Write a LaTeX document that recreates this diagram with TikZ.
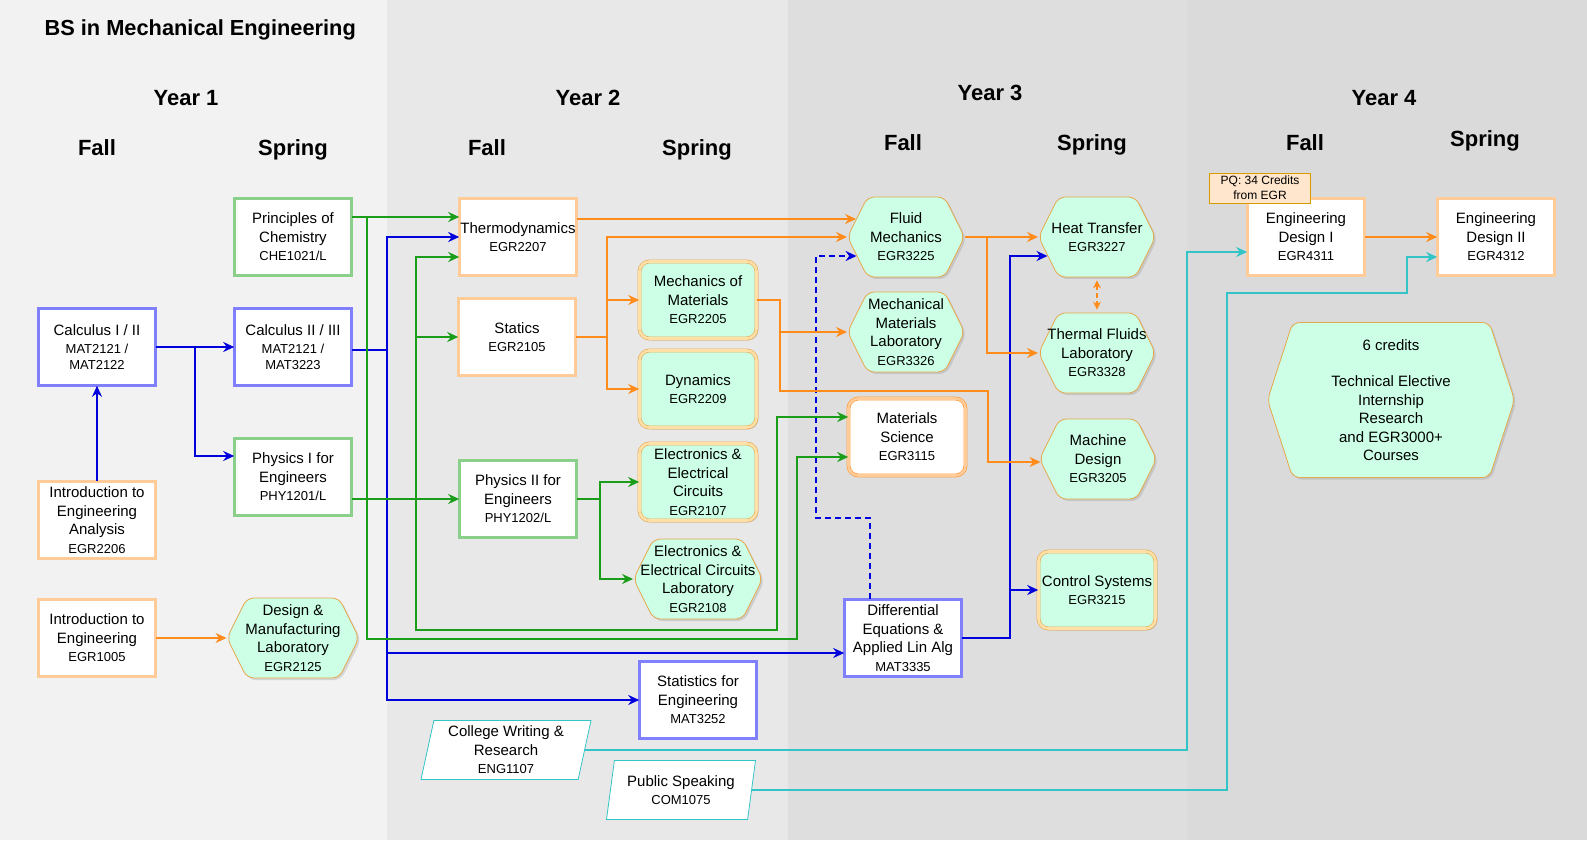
\documentclass[tikz,border=0pt]{standalone}
\usepackage{fontspec}
\setmainfont{Liberation Sans}
\usetikzlibrary{arrows.meta,shapes.geometric,shapes.symbols,shadows}

\definecolor{bgone}{HTML}{F2F2F2}
\definecolor{bgtwo}{HTML}{E8E8E8}
\definecolor{bgthree}{HTML}{DEDEDE}
\definecolor{bgfour}{HTML}{DADADA}
\definecolor{arrblue}{HTML}{0000DD}
\definecolor{arrgreen}{HTML}{1A9E1A}
\definecolor{arrorange}{HTML}{FF8C1A}
\definecolor{arrcyan}{HTML}{33C4C8}
\definecolor{bluedark}{HTML}{0000CC}
\definecolor{bluelight}{HTML}{8080FF}
\definecolor{greendark}{HTML}{3A9A3A}
\definecolor{greenlight}{HTML}{8AD08A}
\definecolor{orangedark}{HTML}{FF9933}
\definecolor{orangelight}{HTML}{FFCC99}
\definecolor{mint}{HTML}{CCFFE6}
\definecolor{tanline}{HTML}{E6A84C}
\definecolor{tanlight}{HTML}{FFE0A8}
\definecolor{pqfill}{HTML}{FFE6CC}
\definecolor{pqline}{HTML}{D79B00}

\newcommand{\crs}[1]{{\fontsize{13}{16}\selectfont #1}}

\begin{document}
\begin{tikzpicture}[x=1pt,y=-1pt,>={Stealth[length=11pt,width=10pt]},
  txt/.style={align=center,font=\fontsize{15}{18.5}\selectfont},
  sqbox/.style={txt,rectangle,minimum width=117pt,minimum height=77pt,inner xsep=0pt,inner ysep=1pt,fill=white,line width=0.6pt,double distance=2.6pt},
  bluebox/.style={sqbox,draw=bluedark,double=bluelight},
  greenbox/.style={sqbox,draw=greendark,double=greenlight},
  orangebox/.style={sqbox,draw=orangedark,double=orangelight},
  mintbox/.style={sqbox,rounded corners=10pt,fill=mint,draw=tanline,double=tanlight,drop shadow={shadow xshift=2pt,shadow yshift=-2pt,opacity=.2}},
  roundbox/.style={sqbox,rounded corners=10pt,draw=orangedark,double=orangelight},
  hexbox/.style={txt,signal,signal to=west and east,signal pointer angle=127,minimum width=117pt,minimum height=80pt,inner xsep=-20pt,inner ysep=1pt,fill=mint,draw=tanline,line width=0.8pt,rounded corners=7pt,drop shadow={shadow xshift=2pt,shadow yshift=-2pt,opacity=.25}},
  slantbox/.style={txt,trapezium,trapezium left angle=75,trapezium right angle=105,trapezium stretches body,minimum width=170pt,minimum height=59pt,inner sep=0pt,fill=white,draw=arrcyan,line width=0.8pt},
  notebox/.style={align=center,font=\fontsize{12}{15}\selectfont,minimum width=101pt,minimum height=30pt,inner sep=0pt,fill=pqfill,draw=pqline,line width=0.8pt},
  yearlbl/.style={anchor=base,font=\bfseries\fontsize{22}{26}\selectfont},
  bluearr/.style={->,arrblue,line width=2pt},
  greenarr/.style={->,arrgreen,line width=2pt},
  orangearr/.style={->,arrorange,line width=2pt},
  cyanarr/.style={->,arrcyan,line width=2pt}]

% year bands
\fill[white] (0,0) rectangle (1587,842);
\fill[bgone] (0,0) rectangle (387,840);
\fill[bgtwo] (387,0) rectangle (788,840);
\fill[bgthree] (788,0) rectangle (1187,840);
\fill[bgfour] (1187,0) rectangle (1587,840);

% headings
\draw (41,35.5) node[anchor=base west,font=\bfseries\fontsize{21.8}{26}\selectfont] (title) {BS in Mechanical Engineering};
\draw (186,106) node[yearlbl] (yr1) {Year 1};
\draw (588,106) node[yearlbl] (yr2) {Year 2};
\draw (990,101) node[yearlbl] (yr3) {Year 3};
\draw (1384,106) node[yearlbl] (yr4) {Year 4};
\draw (97,156) node[yearlbl] (fall1) {Fall};
\draw (293,156) node[yearlbl] (spring1) {Spring};
\draw (487,156) node[yearlbl] (fall2) {Fall};
\draw (697,156) node[yearlbl] (spring2) {Spring};
\draw (903,151) node[yearlbl] (fall3) {Fall};
\draw (1092,151) node[yearlbl] (spring3) {Spring};
\draw (1305,151) node[yearlbl] (fall4) {Fall};
\draw (1485,147) node[yearlbl] (spring4) {Spring};

% year 1
\draw (97,347) node[bluebox] (calc1) {Calculus I / II\\\crs{MAT2121 /}\\[-3pt]\crs{MAT2122}};
\draw (97,520) node[orangebox] (iea) {Introduction to\\Engineering\\Analysis\\\crs{EGR2206}};
\draw (97,638) node[orangebox] (ieng) {Introduction to\\Engineering\\\crs{EGR1005}};
\draw (293,237) node[greenbox] (chem) {Principles of\\Chemistry\\\crs{CHE1021/L}};
\draw (293,347) node[bluebox] (calc2) {Calculus II / III\\\crs{MAT2121 /}\\[-3pt]\crs{MAT3223}};
\draw (293,477) node[greenbox] (phys1) {Physics I for\\Engineers\\\crs{PHY1201/L}};
\draw (293,638) node[hexbox,minimum width=132pt] (dml) {Design \&\\Manufacturing\\Laboratory\\\crs{EGR2125}};

% year 2
\draw (518,237) node[orangebox] (thermo) {Thermodynamics\\\crs{EGR2207}};
\draw (517,337) node[orangebox] (statics) {Statics\\\crs{EGR2105}};
\draw (518,499) node[greenbox] (phys2) {Physics II for\\Engineers\\\crs{PHY1202/L}};
\draw (698,300) node[mintbox] (mom) {Mechanics of\\Materials\\\crs{EGR2205}};
\draw (698,389) node[mintbox] (dyn) {Dynamics\\\crs{EGR2209}};
\draw (698,482) node[mintbox] (eec) {Electronics \&\\Electrical\\Circuits\\\crs{EGR2107}};
\draw (698,579) node[hexbox,minimum width=129pt] (eecl) {Electronics \&\\Electrical Circuits\\Laboratory\\\crs{EGR2108}};
\draw (698,700) node[bluebox] (stats) {Statistics for\\Engineering\\\crs{MAT3252}};
\draw (506,750) node[slantbox] (cwr) {College Writing \&\\Research\\\crs{ENG1107}};
\draw (681,790) node[slantbox,minimum width=149pt] (pspk) {Public Speaking\\\crs{COM1075}};

% year 3
\draw (906,237) node[hexbox] (fm) {Fluid\\Mechanics\\\crs{EGR3225}};
\draw (906,332) node[hexbox] (mml) {Mechanical\\Materials\\Laboratory\\\crs{EGR3326}};
\draw (907,437) node[roundbox] (ms) {Materials\\Science\\\crs{EGR3115}};
\draw (903,638) node[bluebox] (de) {Differential\\Equations \&\\Applied Lin Alg\\\crs{MAT3335}};
\draw (1097,237) node[hexbox] (ht) {Heat Transfer\\\crs{EGR3227}};
\draw (1097,353) node[hexbox] (tfl) {Thermal Fluids\\Laboratory\\\crs{EGR3328}};
\draw (1098,459) node[hexbox] (md) {Machine\\Design\\\crs{EGR3205}};
\draw (1097,590) node[mintbox] (cs) {Control Systems\\\crs{EGR3215}};

% year 4
\draw (1306,237) node[orangebox] (ed1) {Engineering\\Design I\\\crs{EGR4311}};
\draw (1496,237) node[orangebox] (ed2) {Engineering\\Design II\\\crs{EGR4312}};
\draw (1260,188) node[notebox] (pq) {PQ: 34 Credits\\from EGR};
\draw (1391,400) node[hexbox,minimum width=247pt,minimum height=155pt,signal pointer angle=144] (te) {6 credits\\[18pt]Technical Elective\\Internship\\Research\\and EGR3000+\\Courses};

% blue: maths
\draw[bluearr] (iea.north) -- (calc1.south);
\draw[bluearr] (calc1.east) -- (calc2.west);
\draw[bluearr] (calc1.east) -- ++(39.5,0) |- ([yshift=21pt]phys1.west);
\draw[bluearr] ([yshift=-3pt]calc2.east) -- ++(35.5,0) coordinate (bsplit) |- (thermo.west);
\draw[bluearr] (bsplit) |- ([yshift=-15pt]de.west);
\draw[bluearr] (bsplit) |- (stats.west);
\draw[bluearr] (de.east) -- ++(48.5,0) |- ([xshift=9.5pt,yshift=-19pt]ht.west);
\draw[bluearr] (de.east) -- ++(48.5,0) |- (cs.west);
\draw[bluearr,dash pattern=on 6pt off 4pt] ([xshift=-33pt]de.north) -- ++(0,-81) -- ++(-54,0) |- ([xshift=9.5pt,yshift=-19pt]fm.west);

% green: sciences
\draw[greenarr] ([yshift=20pt]chem.east) -- ([yshift=20pt]thermo.west);
\draw[greenarr] ([yshift=20pt]chem.east) -- ++(15.5,0) -- ++(0,422) -- ++(430,0) |- ([yshift=-20pt]ms.west);
\draw[greenarr] ([yshift=-22pt]phys1.east) -- (phys2.west);
\draw[greenarr] ([yshift=-22pt]phys1.east) -- ++(64.5,0) coordinate (gsplit) |- ([yshift=-20pt]thermo.west);
\draw[greenarr] (gsplit) |- (statics.west);
\draw[greenarr] (gsplit) -- ++(0,131) -- ++(361,0) |- ([yshift=20pt]ms.west);
\draw[greenarr] (phys2.east) -- ++(23.5,0) |- (eec.west);
\draw[greenarr] (phys2.east) -- ++(23.5,0) |- (eecl.west);

% orange: engineering
\draw[orangearr] (ieng.east) -- (dml.west);
\draw[orangearr] ([yshift=18pt]thermo.east) -- ([xshift=9pt,yshift=18pt]fm.west);
\draw[orangearr] (statics.east) -- ++(31.5,0) |- (fm.west);
\draw[orangearr] (statics.east) -- ++(31.5,0) |- (mom.west);
\draw[orangearr] (statics.east) -- ++(31.5,0) |- (dyn.west);
\draw[orangearr] (mom.east) -- ++(23.5,0) |- (mml.west);
\draw[orangearr] (mom.east) -- ++(23.5,0) -- ++(0,91) -- ++(208,0) |- ([xshift=1.5pt,yshift=-3pt]md.west);
\draw[orangearr] (fm.east) -- (ht.west);
\draw[orangearr] (fm.east) -- ++(22.5,0) |- (tfl.west);
\draw[orangearr,dash pattern=on 5pt off 3pt,{Stealth[length=8pt,width=8pt]}-{Stealth[length=8pt,width=8pt]},shorten <=3pt,shorten >=3pt] (ht.south) -- (tfl.north);
\draw[orangearr] (ed1.east) -- (ed2.west);

% cyan: general education
\draw[cyanarr] (cwr.east) -| ([xshift=-60.5pt,yshift=-15pt]ed1.west) -- ([yshift=-15pt]ed1.west);
\draw[cyanarr] (pspk.east) -| ([xshift=-210.5pt,yshift=-56pt]ed2.west) -| ([xshift=-30.5pt,yshift=-20pt]ed2.west) -- ([yshift=-20pt]ed2.west);
\end{tikzpicture}
\end{document}
